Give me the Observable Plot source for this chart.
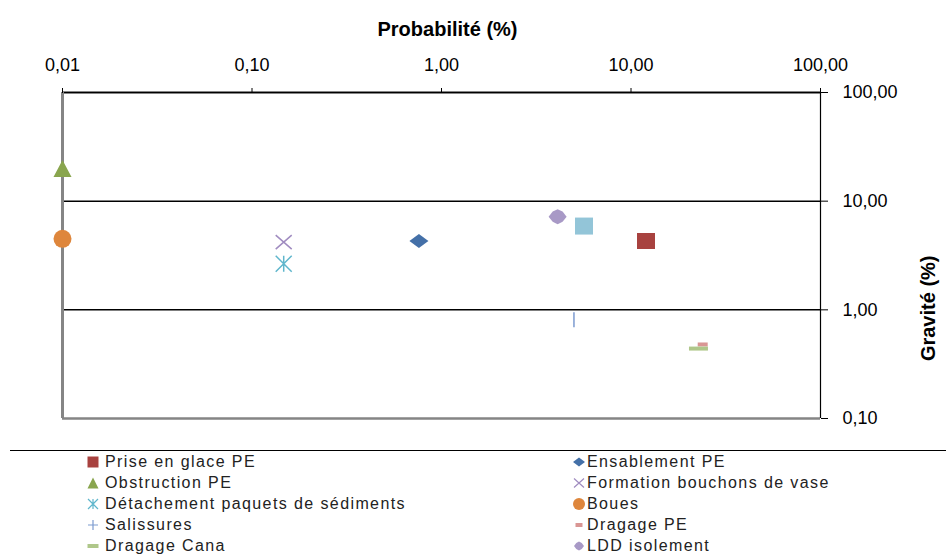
<!DOCTYPE html>
<html><head><meta charset="utf-8">
<script src="https://cdn.jsdelivr.net/npm/d3@7"></script>
<script src="https://cdn.jsdelivr.net/npm/@observablehq/plot@0.6"></script>
<style>
body{margin:0;background:#fff;font-family:"Liberation Sans",Arial,sans-serif;}
#chart{position:relative;width:946px;height:440px;}
#legend{position:relative;width:946px;height:115px;}
.sep{position:absolute;left:10px;right:0;top:10px;border-top:1.5px solid #000;}
.item{position:absolute;font-size:16px;letter-spacing:1.4px;color:#222;line-height:20px;white-space:nowrap;}
.item svg{position:absolute;top:3px;}
</style></head><body>
<div id="chart"></div>
<div id="legend"></div>
<script>
// ---- data ----
const seriesNames = ["Prise en glace PE","Ensablement PE","Obstruction PE","Formation bouchons de vase","Détachement paquets de sédiments","Boues","Salissures","Dragage PE","Dragage Cana","LDD isolement","Série 11"];
const probability = [12, 0.76, 0.01, 0.147, 0.147, 0.01, 5.0, 23.9, 22.7, 4.1, 5.65];
const gravity     = [4.3, 4.3, 20, 4.2, 2.65, 4.5, 0.81, 0.48, 0.44, 7.2, 5.9];
const inLegend    = [true,true,true,true,true,true,true,true,true,true,false];
const xTicks = [0.01, 0.1, 1, 10, 100];
const yTicks = [0.1, 1, 10, 100];
const gridY = [1, 10, 100];
const xTitle = "Probabilité (%)";
const yTitle = "Gravité (%)";

// ---- styles ----
const kinds  = ["square","wdiamond","triangle","times","asterisk","circle","vline","dash","dash","octagon","square"];
const colors = ["#A8423F","#4470A8","#89A54E","#A08CC0","#5FB6CC","#DE863C","#7C9BD0","#D99694","#AFC78A","#A899C6","#93C5D8"];
const chartW = [18,19,18,16,16,18,15,10,19,18,18];
const chartH = [16,14,17,14,16,18,15,4,4,15,17];
const legW   = [11,12,11,10,10,12,10,7,11,10,11];
const legH   = [11,9,11,9,10,12,10,4,4,9,11];
const stroked = k => k === "times" || k === "asterisk" || k === "vline" || k === "plus";

function makeSymbol(kind, w, h, legend) {
  const a = w / 2, b = h / 2;
  return {draw(c) {
    switch (kind) {
      case "square": case "dash":
        c.moveTo(-a,-b); c.lineTo(a,-b); c.lineTo(a,b); c.lineTo(-a,b); c.closePath(); break;
      case "wdiamond":
        c.moveTo(-a,0); c.lineTo(0,-b); c.lineTo(a,0); c.lineTo(0,b); c.closePath(); break;
      case "triangle":
        c.moveTo(0,-b); c.lineTo(a,b); c.lineTo(-a,b); c.closePath(); break;
      case "circle":
        c.moveTo(a,0); c.arc(0,0,a,0,2*Math.PI); break;
      case "octagon":
        c.moveTo(a,0); c.lineTo(a*0.55,-b*0.68); c.lineTo(0,-b); c.lineTo(-a*0.55,-b*0.68);
        c.lineTo(-a,0); c.lineTo(-a*0.55,b*0.68); c.lineTo(0,b); c.lineTo(a*0.55,b*0.68); c.closePath(); break;
      case "times":
        c.moveTo(-a,-b); c.lineTo(a,b); c.moveTo(a,-b); c.lineTo(-a,b); break;
      case "asterisk":
        c.moveTo(-a,-b); c.lineTo(a,b); c.moveTo(a,-b); c.lineTo(-a,b); c.moveTo(0,-b); c.lineTo(0,b); break;
      case "vline":
        c.moveTo(0,-b); c.lineTo(0,b);
        if (legend) { c.moveTo(-a,0); c.lineTo(a,0); }
        break;
    }
  }};
}

const fmt = d => d3.format(".2f")(d).replace(".", ",");
const points = seriesNames.map((n, i) => ({name: n, x: probability[i], y: gravity[i], i}));

const dotMarks = points.map(p => {
  const k = kinds[p.i];
  return Plot.dot([p], {
    x: "x", y: "y",
    symbol: makeSymbol(k, chartW[p.i], chartH[p.i], false),
    fill: stroked(k) ? "none" : colors[p.i],
    stroke: stroked(k) ? colors[p.i] : "none",
    strokeWidth: stroked(k) ? 1.5 : 0
  });
});

const chart = Plot.plot({
  width: 946, height: 440,
  marginTop: 92, marginBottom: 22, marginLeft: 62, marginRight: 126,
  style: {fontFamily: "'Liberation Sans', Arial, sans-serif", color: "#000", background: "#fff"},
  x: {type: "log", domain: [0.01, 100]},
  y: {type: "log", domain: [0.1, 100]},
  marks: [
    Plot.ruleY(gridY, {stroke: "#000", strokeWidth: 1.5}),
    Plot.ruleY([100], {stroke: "#858585", strokeWidth: 3}),
    Plot.ruleY([100], {stroke: "#000", strokeWidth: 1.2}),
    Plot.ruleY([0.1], {stroke: "#858585", strokeWidth: 2.5}),
    Plot.ruleX([0.01], {stroke: "#858585", strokeWidth: 3}),
    Plot.ruleX([100], {stroke: "#000", strokeWidth: 1.2}),
    Plot.axisX(xTicks, {anchor: "top", tickSize: 5, tickPadding: 17, tickFormat: fmt, fontSize: 18, label: null, style: {letterSpacing: "1.5px"}}),
    Plot.axisY(yTicks, {anchor: "right", tickSize: 7, tickPadding: 15, tickFormat: fmt, fontSize: 18, label: null, style: {letterSpacing: "1.5px"}}),
    Plot.text([xTitle], {frameAnchor: "top", dx: 6, dy: -71, fontSize: 20, fontWeight: "bold", text: d => d, style: {letterSpacing: "0.5px"}}),
    Plot.text([yTitle], {frameAnchor: "right", dx: 108, rotate: -90, fontSize: 20, fontWeight: "bold", text: d => d, style: {letterSpacing: "0.5px"}}),
    ...dotMarks
  ]
});
document.getElementById("chart").appendChild(chart);

// ---- legend ----
const legend = d3.select("#legend");
legend.append("div").attr("class", "sep");
const rowY = [12, 33, 54, 75, 96];
const colMarkX = [93, 579];
const colTextX = [105, 587];
points.filter(p => inLegend[p.i]).forEach((p, j) => {
  const row = Math.floor(j / 2), col = j % 2;
  const k = kinds[p.i];
  const item = legend.append("div").attr("class", "item")
    .style("left", (colMarkX[col] - 7) + "px").style("top", rowY[row] + "px")
    .style("padding-left", (colTextX[col] - colMarkX[col] + 7) + "px")
    .text(p.name);
  const svg = item.append("svg").attr("width", 14).attr("height", 14).style("left", "0px");
  const path = d3.path();
  makeSymbol(k, legW[p.i], legH[p.i], true).draw(path);
  svg.append("path").attr("transform", "translate(7,7)").attr("d", path.toString())
    .attr("fill", stroked(k) ? "none" : colors[p.i])
    .attr("stroke", stroked(k) ? colors[p.i] : "none")
    .attr("stroke-width", 1.2);
});
</script>
</body></html>
